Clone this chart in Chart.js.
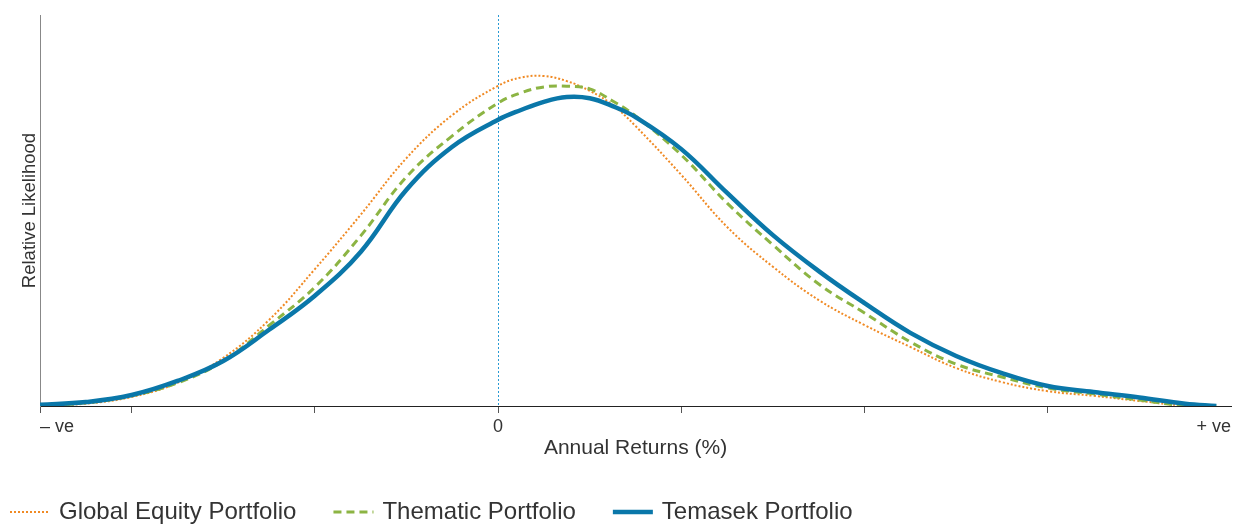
<!DOCTYPE html>
<html>
<head>
<meta charset="utf-8">
<script src="https://cdn.jsdelivr.net/npm/chart.js@4/dist/chart.umd.min.js"></script>
<style>
  html, body { margin: 0; padding: 0; background: #ffffff; }
  #wrap { width: 1234px; height: 525px; }
</style>
</head>
<body>
<div id="wrap"><canvas id="chart" width="1234" height="525"></canvas></div>
<script>
// Annual returns (x, in units between tick marks; 0 = zero return)
const returns = [-2.5, -2.25, -2, -1.75, -1.5, -1.25, -1, -0.75, -0.5, -0.25, 0, 0.125, 0.25, 0.375,
                 0.5, 0.625, 0.75, 1, 1.25, 1.5, 1.75, 2, 2.25, 2.5, 2.75, 3, 3.25, 3.5, 3.75, 3.92];

// Relative likelihood for each portfolio (0-100 of the axis height)
const globalEquity = [0, 0.6, 2.3, 5.9, 12.3, 22.0, 35.0, 48.9, 63.4, 74.4, 81.9, 84.0, 84.4, 83.1,
                      80.6, 77.0, 71.6, 59.1, 45.8, 35.6, 27.1, 20.7, 15.1, 9.7, 6.1, 3.8, 2.6, 1.3, 0.1, 0];
const thematic = [0.1, 0.8, 2.6, 5.9, 11.5, 20.6, 30.4, 43.5, 58.6, 69.1, 77.5, 80.1, 81.6, 81.8,
                  81.1, 78.0, 74.2, 64.2, 51.9, 41.2, 31.2, 23.8, 16.4, 10.7, 7.4, 4.6, 3.1, 1.5, 0.1, 0];
const temasek = [0.3, 1.0, 2.8, 6.4, 11.5, 19.5, 28.2, 39.4, 55.3, 66.3, 73.2, 75.7, 77.8, 79.0,
                 78.7, 76.7, 73.9, 65.7, 54.5, 43.7, 34.5, 26.3, 18.7, 12.8, 8.4, 5.1, 3.6, 2.2, 0.6, 0];

const seriesNames = ['Global Equity Portfolio', 'Thematic Portfolio', 'Temasek Portfolio'];

// x-axis tick marks and the labels shown under them
const tickValues = [-2.5, -2, -1, 0, 1, 2, 3, 4];
const tickLabels = { '-2.5': '\u2013 ve', '0': '0', '4': '+ ve' };

const FONT = '"Liberation Sans", Arial, Helvetica, sans-serif';
const TEXT = '#333333';

const toPoints = ys => returns.map((x, i) => ({ x, y: ys[i] }));

// Dotted vertical line at zero return
const zeroLine = {
  id: 'zeroLine',
  beforeDatasetsDraw(chart) {
    const { ctx, chartArea, scales } = chart;
    const px = Math.round(scales.x.getPixelForValue(0)) + 0.5;
    ctx.save();
    ctx.strokeStyle = '#2a9ad4';
    ctx.lineWidth = 1;
    ctx.setLineDash([2, 2]);
    ctx.beginPath();
    ctx.moveTo(px, chartArea.top);
    ctx.lineTo(px, chartArea.bottom);
    ctx.stroke();
    ctx.restore();
  }
};

// Legend row along the bottom, left aligned
const bottomLegend = {
  id: 'bottomLegend',
  afterDraw(chart) {
    const ctx = chart.ctx;
    const y = 512;
    let x = 10;
    ctx.save();
    ctx.font = '24px ' + FONT;
    ctx.textBaseline = 'middle';
    chart.data.datasets.forEach(ds => {
      ctx.beginPath();
      ctx.setLineDash(ds.borderDash || []);
      ctx.lineWidth = ds.borderWidth;
      ctx.strokeStyle = ds.borderColor;
      ctx.moveTo(x, y);
      ctx.lineTo(x + 40, y);
      ctx.stroke();
      ctx.setLineDash([]);
      ctx.fillStyle = TEXT;
      ctx.fillText(ds.label, x + 49, y);
      x += 49 + ctx.measureText(ds.label).width + 37;
    });
    ctx.restore();
  }
};

new Chart(document.getElementById('chart'), {
  type: 'line',
  data: {
    datasets: [
      {
        label: seriesNames[0],
        data: toPoints(globalEquity),
        borderColor: '#f08a24',
        borderWidth: 2,
        borderDash: [2, 2],
        order: 2
      },
      {
        label: seriesNames[1],
        data: toPoints(thematic),
        borderColor: '#8cb443',
        borderWidth: 3,
        borderDash: [8, 5],
        order: 1
      },
      {
        label: seriesNames[2],
        data: toPoints(temasek),
        borderColor: '#0a77a9',
        borderWidth: 4.5,
        order: 0
      }
    ]
  },
  options: {
    responsive: false,
    animation: false,
    devicePixelRatio: 1,
    layout: { padding: { top: 15, left: 0, right: 3, bottom: 0 } },
    elements: {
      point: { radius: 0, hoverRadius: 0 },
      line: { tension: 0.4, fill: false, borderCapStyle: 'butt' }
    },
    plugins: {
      legend: { display: false },
      tooltip: { enabled: false }
    },
    scales: {
      x: {
        type: 'linear',
        min: -2.5,
        max: 4,
        afterBuildTicks: s => { s.ticks = tickValues.map(v => ({ value: v })); },
        afterFit: s => { s.height = 119; s.paddingLeft = 0; s.paddingRight = 0; },
        border: { display: true, color: '#222222', width: 1 },
        grid: {
          display: true,
          drawOnChartArea: false,
          drawTicks: true,
          tickLength: 7,
          tickColor: c => (c.tick && c.tick.value === 4) ? 'rgba(0,0,0,0)' : '#555555'
        },
        ticks: {
          align: 'inner',
          autoSkip: false,
          maxRotation: 0,
          padding: 3,
          color: TEXT,
          font: { family: FONT, size: 18 },
          callback: v => tickLabels[String(v)] ?? ''
        },
        title: {
          display: true,
          text: 'Annual Returns (%)',
          color: TEXT,
          font: { family: FONT, size: 21 },
          padding: { top: 0, bottom: 64 }
        }
      },
      y: {
        min: 0,
        max: 100,
        afterFit: s => { s.width = 40; },
        border: { display: true, color: '#888888', width: 1 },
        grid: { display: false },
        ticks: { display: false },
        title: {
          display: true,
          text: 'Relative Likelihood',
          color: TEXT,
          font: { family: FONT, size: 18.5 },
          padding: { top: 19, bottom: 0 }
        }
      }
    }
  },
  plugins: [zeroLine, bottomLegend]
});
</script>
</body>
</html>
